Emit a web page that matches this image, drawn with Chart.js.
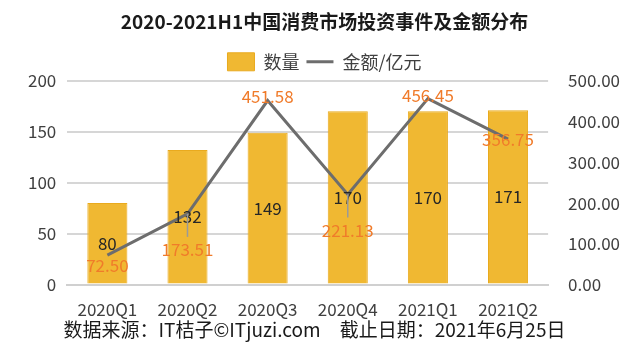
<!DOCTYPE html>
<html>
<head>
<meta charset="utf-8">
<script src="https://cdn.jsdelivr.net/npm/chart.js@4"></script>
<style>
  html, body { margin: 0; padding: 0; background: #fff; }
  #wrap { width: 629px; height: 354px; }
</style>
</head>
<body>
<div id="wrap"><canvas id="chart"></canvas></div>
<script>
// Chart data
const categories = ['2020Q1', '2020Q2', '2020Q3', '2020Q4', '2021Q1', '2021Q2'];
const dealCounts = [80, 132, 149, 170, 170, 171];
const amounts = [72.50, 173.51, 451.58, 221.13, 456.45, 356.75];
const countTicks = [0, 50, 100, 150, 200];
const amountTicks = [0, 100, 200, 300, 400, 500];

// label offsets for the amount labels (px from the point)
const amountLabelDy = [10, 36, -4, 36, -3, 0];
const leaderLines = [false, true, false, true, false, false];

const FOOTER = '数据来源：IT桔子©ITjuzi.com　截止日期：2021年6月25日';
const FONT = '"Noto Sans CJK SC", "Noto Sans", sans-serif';

// Draws value labels on bars and line points, plus the source line
const valueLabels = {
    id: 'valueLabels',
    afterDatasetsDraw(chart) {
        const ctx = chart.ctx;
        const barMeta = chart.getDatasetMeta(0);
        const lineMeta = chart.getDatasetMeta(1);
        ctx.save();
        ctx.textAlign = 'center';
        ctx.textBaseline = 'middle';

        ctx.font = '17px ' + FONT;
        ctx.fillStyle = '#262626';
        barMeta.data.forEach((bar, i) => {
            ctx.fillText(String(dealCounts[i]), bar.x, (bar.y + bar.base) / 2);
        });

        lineMeta.data.forEach((pt, i) => {
            const dy = amountLabelDy[i];
            if (leaderLines[i]) {
                ctx.strokeStyle = '#9a9a9a';
                ctx.lineWidth = 1.5;
                ctx.beginPath();
                ctx.moveTo(pt.x, pt.y);
                ctx.lineTo(pt.x, pt.y + dy - 13);
                ctx.stroke();
            }
            ctx.fillStyle = '#f07b2a';
            ctx.fillText(amounts[i].toFixed(2), pt.x, pt.y + dy);
        });

        // source / date line
        ctx.font = '19px ' + FONT;
        ctx.fillStyle = '#1a1a1a';
        ctx.fillText(FOOTER, chart.width / 2, chart.height - 24);
        ctx.restore();
    }
};

new Chart(document.getElementById('chart').getContext('2d'), {
    data: {
        labels: categories,
        datasets: [{
            type: 'bar',
            label: '数量',
            data: dealCounts,
            yAxisID: 'y',
            backgroundColor: '#f0b832',
            borderColor: '#e9aa1e',
            borderWidth: 1,
            categoryPercentage: 1,
            barPercentage: 0.5,
            pointStyle: 'rect',
            order: 2
        }, {
            type: 'line',
            label: '金额/亿元',
            data: amounts,
            yAxisID: 'y1',
            borderColor: '#6d6d6d',
            backgroundColor: '#6d6d6d',
            borderWidth: 3,
            pointRadius: 0,
            tension: 0,
            pointStyle: 'line',
            order: 1
        }]
    },
    options: {
        responsive: true,
        maintainAspectRatio: false,
        animation: false,
        layout: { padding: { left: 17, right: -3, top: 0, bottom: 19 } },
        plugins: {
            title: {
                display: true,
                text: '2020-2021H1中国消费市场投资事件及金额分布',
                color: '#1a1a1a',
                font: { family: FONT, size: 19, weight: 'bold' },
                padding: { top: 10, bottom: 13 }
            },
            legend: {
                position: 'top',
                labels: {
                    usePointStyle: true,
                    pointStyleWidth: 27,
                    boxHeight: 18,
                    color: '#404040',
                    font: { family: FONT, size: 18 },
                    padding: 7,
                    sort: (a, b) => a.datasetIndex - b.datasetIndex
                }
            },
            tooltip: { enabled: false }
        },
        scales: {
            x: {
                grid: { display: false, drawTicks: false },
                border: { color: '#d0d0d0', width: 2 },
                ticks: { color: '#404040', padding: 15, font: { family: FONT, size: 17 } }
            },
            y: {
                position: 'left',
                min: countTicks[0],
                max: countTicks[countTicks.length - 1],
                afterBuildTicks: axis => { axis.ticks = countTicks.map(v => ({ value: v })); },
                grid: { color: '#d6d6d6', lineWidth: 2, drawTicks: false },
                border: { display: false },
                ticks: { color: '#404040', padding: 11, font: { family: FONT, size: 17 } }
            },
            y1: {
                position: 'right',
                min: amountTicks[0],
                max: amountTicks[amountTicks.length - 1],
                afterBuildTicks: axis => { axis.ticks = amountTicks.map(v => ({ value: v })); },
                grid: { display: false },
                border: { display: false },
                ticks: {
                    color: '#404040',
                    padding: 12,
                    font: { family: FONT, size: 17 },
                    callback: v => Number(v).toFixed(2)
                }
            }
        }
    },
    plugins: [valueLabels]
});
</script>
</body>
</html>
